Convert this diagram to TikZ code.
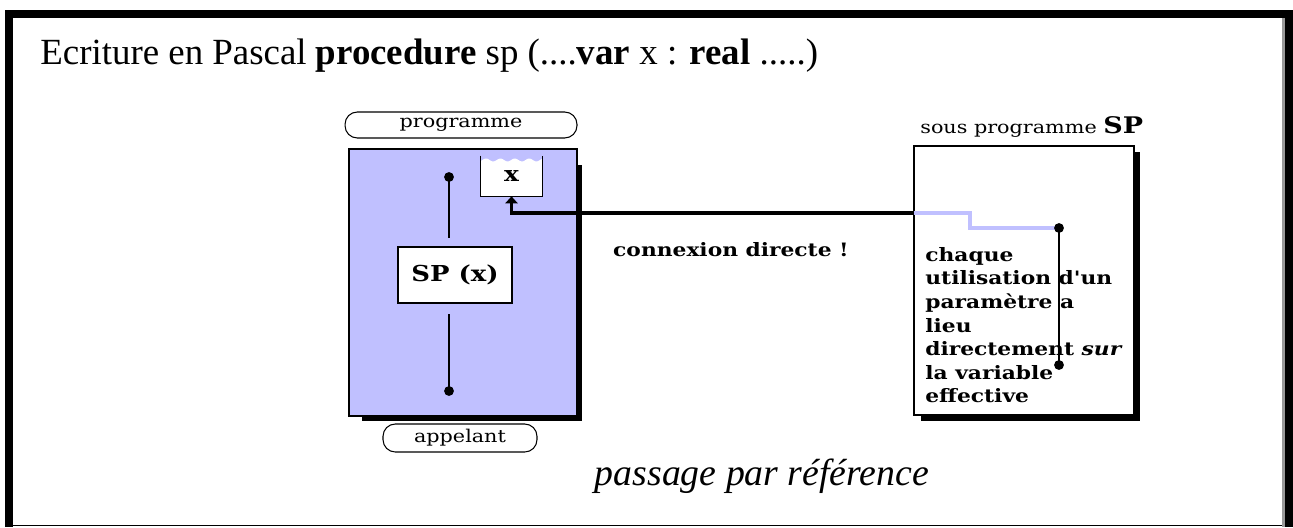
\documentclass[tikz,border=0pt]{standalone}
\usepackage{fontspec}
\setmainfont{Liberation Serif}
\newfontfamily\dessinfont{DejaVu Serif}[FakeStretch=1.18]
\usetikzlibrary{arrows.meta}
\definecolor{lavande}{RGB}{192,192,255}
\tikzset{pill/.style={draw, line width=0.6pt, rounded corners=7pt, inner sep=0pt, font=\dessinfont\fontsize{10}{12}\selectfont}}
\tikzset{cadre/.style={draw, line width=0.8pt, inner sep=0pt}}
\tikzset{lien/.style={line width=2pt, line cap=butt}}
\tikzset{point/.style={fill=black}}

\begin{document}
\begin{tikzpicture}[x=0.02cm,y=-0.02cm]
\useasboundingbox (0,0) rectangle (1293,527);

% bords de la page
\fill[black] (5,10) rectangle (1293,18);
\fill[black] (5,10) rectangle (13,527);
\fill[black!40] (1282,18) rectangle (1285,527);
\fill[black] (1285,10) rectangle (1293,527);
\draw[thin] (13,525.5) -- (1282,525.5);

\node[anchor=base west, inner sep=0pt, font=\fontsize{21}{24}\selectfont] (titre) at (40,65)
  {Ecriture en Pascal \textbf{procedure} sp (....\textbf{var} x : \textbf{real} .....)};

% programme appelant
\node[pill, minimum width=4.64cm, minimum height=0.52cm] (prog) at (461,125) {programme};
\fill[black] (362,165) rectangle (582,421);
\node[cadre, fill=lavande, minimum width=4.56cm, minimum height=5.34cm] (appel) at (463,282.5) {};
\node[pill, minimum width=3.08cm, minimum height=0.56cm] (appelant) at (460,438) {appelant};

% case de la variable x
\fill[white] (481,196) -- plot[domain=481:542, samples=40] (\x,{160+1.5*sin(\x*25)}) -- (542,196) -- cycle;
\node[inner sep=0pt, minimum width=1.22cm, minimum height=0.8cm,
  font=\dessinfont\bfseries\fontsize{12}{14}\selectfont] (xbox) at (511.5,176) {x};
\draw[line width=0.8pt] (xbox.north west) -- (xbox.south west) -- (xbox.south east) -- (xbox.north east);

\node[cadre, fill=white, minimum width=2.28cm, minimum height=1.12cm,
  font=\dessinfont\bfseries\fontsize{12.5}{15}\selectfont] (appelsp) at (455,275) {SP (x)};
\coordinate (haut) at (449,177);
\coordinate (bas) at (449,391);
\draw[line width=0.8pt] (haut) -- (449,238);
\draw[line width=0.8pt] (449,314) -- (bas);
\fill[point] (haut) circle[radius=2.8pt];
\fill[point] (bas) circle[radius=2.8pt];

% sous programme
\node[anchor=base west, inner sep=0pt, font=\dessinfont\fontsize{10}{12}\selectfont] (soustitre) at (920,133)
  {sous programme {\bfseries\fontsize{13}{15}\selectfont SP}};
\fill[black] (921,152) rectangle (1140,421);
\node[cadre, fill=white, minimum width=4.4cm, minimum height=5.38cm] (sousprog) at (1024,280.5) {};

\node[anchor=north west, inner sep=0pt, align=left,
  font=\dessinfont\bfseries\fontsize{10.5}{13.4}\selectfont] (regle) at (925,247)
  {chaque\\utilisation d'un\\paramètre a\\lieu\\directement \textit{sur}\\la variable\\effective};

\coordinate (entree) at (914,213);
\coordinate (dotC) at (1059,228);
\coordinate (dotD) at (1059,365);
\draw[lien, lavande] (entree) -- ++(56,0) |- (dotC);
\draw[line width=0.8pt] (dotC) -- (dotD);
\fill[point] (dotC) circle[radius=2.8pt];
\fill[point] (dotD) circle[radius=2.8pt];

% connexion directe
\draw[lien, -{Triangle[width=7pt,length=4pt]}] (entree) -| (xbox.south);
\node[font=\dessinfont\bfseries\fontsize{10.5}{13}\selectfont] (direct) at (731,250) {connexion directe !};

\node[anchor=base, font=\itshape\fontsize{21.5}{25}\selectfont] (passage) at (762,485) {passage par référence};
\end{tikzpicture}
\end{document}
